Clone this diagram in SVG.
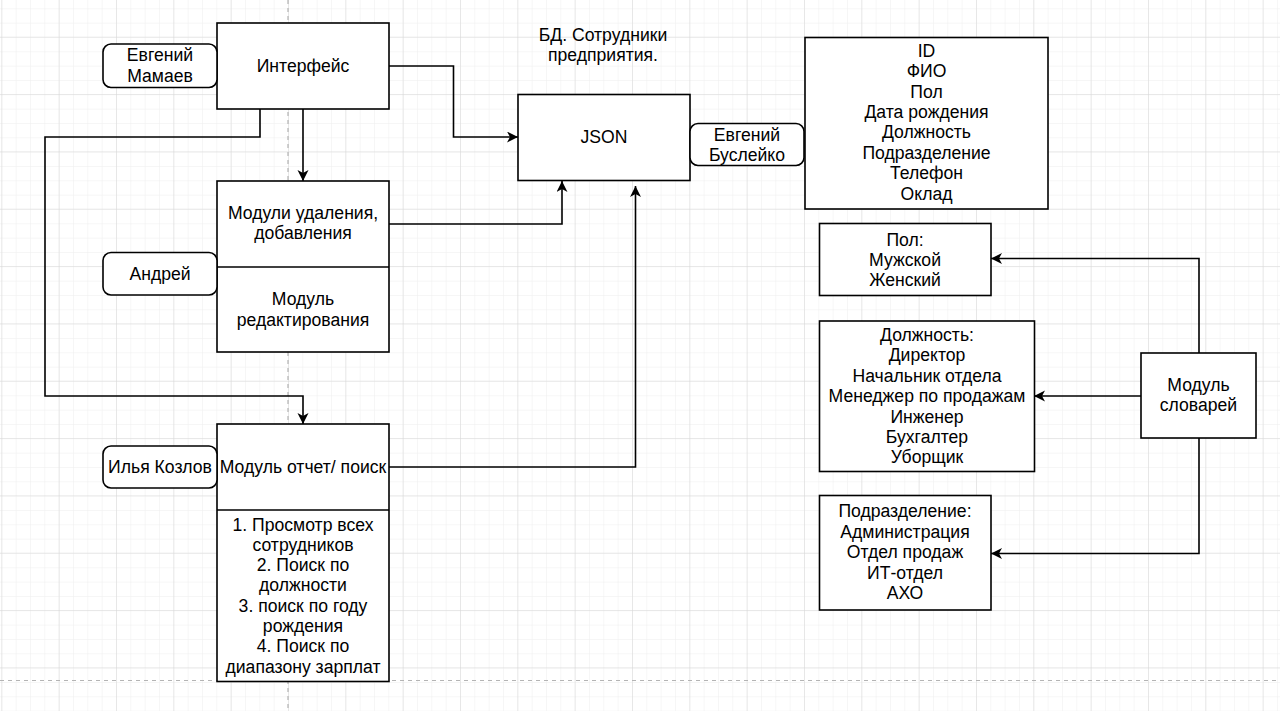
<svg xmlns="http://www.w3.org/2000/svg" width="1280" height="711" viewBox="0 0 1280 711">
<defs>
<pattern id="minor" patternUnits="userSpaceOnUse" x="1.33" y="8.33" width="14.333" height="14.333">
<path d="M0,0 H14.333 M0,0 V14.333" fill="none" stroke="#eeeeee" stroke-width="1"/>
</pattern>
<pattern id="major" patternUnits="userSpaceOnUse" x="1.33" y="36.67" width="57.333" height="57.333">
<path d="M0,0 H57.333 M0,0 V57.333" fill="none" stroke="#d8d8d8" stroke-width="1"/>
</pattern>
<marker id="arr" markerUnits="userSpaceOnUse" markerWidth="12" markerHeight="12" refX="11" refY="5.5" orient="auto">
<path d="M0,0 L11,5.5 L0,11 L3,5.5 z" fill="#000"/>
</marker>
</defs>
<style>
.box{fill:#fff;stroke:#000;stroke-width:1.6}
.rbox{fill:#fff;stroke:#000;stroke-width:1.6}
.t{font-family:"Liberation Sans",Arial,sans-serif;font-size:17.6px;fill:#000;text-anchor:middle}
.edge{fill:none;stroke:#000;stroke-width:1.6;marker-end:url(#arr)}
.plain{fill:none;stroke:#000;stroke-width:1.6}
.page{fill:none;stroke:#b4b4b4;stroke-width:1.2;stroke-dasharray:4 4}
</style>
<rect x="0" y="0" width="1280" height="711" fill="#fff"/>
<rect x="0" y="0" width="1280" height="711" fill="url(#minor)"/>
<rect x="0" y="0" width="1280" height="711" fill="url(#major)"/>
<line class="page" x1="288" y1="0" x2="288" y2="711"/>
<line class="page" x1="0" y1="680.5" x2="1280" y2="680.5"/>

<g id="connectors">
<polyline class="edge" points="389,66 453.5,66 453.5,137 518,137"/>
<polyline class="edge" points="303,109 303,181"/>
<polyline class="edge" points="260,109 260,137 45,137 45,396 303,396 303,424"/>
<polyline class="edge" points="389,224 562,224 562,181"/>
<polyline class="edge" points="389,467 635.5,467 635.5,186"/>
<polyline class="edge" points="1199,353 1199,258.5 991,258.5"/>
<polyline class="edge" points="1141,396 1034,396"/>
<polyline class="edge" points="1199,438 1199,553.5 991,553.5"/>
</g>

<g id="interface">
<rect class="box" x="217" y="23" width="172" height="86"/>
<text class="t" x="303" y="72">Интерфейс</text>
</g>
<g id="mamaev">
<rect class="rbox" x="103" y="44" width="114" height="43.5" rx="8"/>
<text class="t" x="160" y="61">Евгений</text>
<text class="t" x="160" y="82">Мамаев</text>
</g>
<g id="modules">
<rect class="box" x="217" y="181" width="172" height="171"/>
<line class="plain" x1="217" y1="267" x2="389" y2="267"/>
<text class="t" x="303" y="218.5">Модули удаления,</text>
<text class="t" x="303" y="239">добавления</text>
<text class="t" x="303" y="305">Модуль</text>
<text class="t" x="303" y="325.7">редактирования</text>
</g>
<g id="andrey">
<rect class="rbox" x="103" y="252.5" width="114" height="42.5" rx="8"/>
<text class="t" x="160" y="279.5">Андрей</text>
</g>
<g id="report">
<rect class="box" x="217" y="424" width="172" height="257.5"/>
<line class="plain" x1="217" y1="510" x2="389" y2="510"/>
<text class="t" x="303" y="473">Модуль отчет/ поиск</text>
<text class="t" x="303" y="530.5">1. Просмотр всех</text>
<text class="t" x="303" y="550.8">сотрудников</text>
<text class="t" x="303" y="571.1">2. Поиск по</text>
<text class="t" x="303" y="591.4">должности</text>
<text class="t" x="303" y="611.7">3. поиск по году</text>
<text class="t" x="303" y="632">рождения</text>
<text class="t" x="303" y="652.3">4. Поиск по</text>
<text class="t" x="303" y="672.6">диапазону зарплат</text>
</g>
<g id="kozlov">
<rect class="rbox" x="103" y="446" width="114" height="42" rx="8"/>
<text class="t" x="160" y="473">Илья Козлов</text>
</g>
<g id="db-title">
<text class="t" x="603" y="40.5">БД. Сотрудники</text>
<text class="t" x="603" y="61">предприятия.</text>
</g>
<g id="json">
<rect class="box" x="518" y="94.5" width="172" height="86"/>
<text class="t" x="604" y="143">JSON</text>
</g>
<g id="busleyko">
<rect class="rbox" x="690" y="123.5" width="114" height="42" rx="8"/>
<text class="t" x="747" y="140.5">Евгений</text>
<text class="t" x="747" y="161">Буслейко</text>
</g>
<g id="fields">
<rect class="box" x="805" y="37.5" width="243" height="171.5"/>
<text class="t" x="926.5" y="56.7">ID</text>
<text class="t" x="926.5" y="77.1">ФИО</text>
<text class="t" x="926.5" y="97.5">Пол</text>
<text class="t" x="926.5" y="117.9">Дата рождения</text>
<text class="t" x="926.5" y="138.3">Должность</text>
<text class="t" x="926.5" y="158.7">Подразделение</text>
<text class="t" x="926.5" y="179.1">Телефон</text>
<text class="t" x="926.5" y="199.5">Оклад</text>
</g>
<g id="sex">
<rect class="box" x="819.5" y="223.5" width="171.5" height="72"/>
<text class="t" x="905" y="245.5">Пол:</text>
<text class="t" x="905" y="265.9">Мужской</text>
<text class="t" x="905" y="286.3">Женский</text>
</g>
<g id="position">
<rect class="box" x="819.5" y="321" width="215" height="150.5"/>
<text class="t" x="927" y="341">Должность:</text>
<text class="t" x="927" y="361.4">Директор</text>
<text class="t" x="927" y="381.8">Начальник отдела</text>
<text class="t" x="927" y="402.2">Менеджер по продажам</text>
<text class="t" x="927" y="422.6">Инженер</text>
<text class="t" x="927" y="443">Бухгалтер</text>
<text class="t" x="927" y="463.4">Уборщик</text>
</g>
<g id="division">
<rect class="box" x="819.5" y="495.5" width="171.5" height="114.5"/>
<text class="t" x="905" y="517.3">Подразделение:</text>
<text class="t" x="905" y="537.7">Администрация</text>
<text class="t" x="905" y="558.1">Отдел продаж</text>
<text class="t" x="905" y="578.5">ИТ-отдел</text>
<text class="t" x="905" y="598.9">АХО</text>
</g>
<g id="dictionaries">
<rect class="box" x="1141" y="353" width="115" height="85"/>
<text class="t" x="1198.5" y="390.7">Модуль</text>
<text class="t" x="1198.5" y="411.1">словарей</text>
</g>
</svg>
